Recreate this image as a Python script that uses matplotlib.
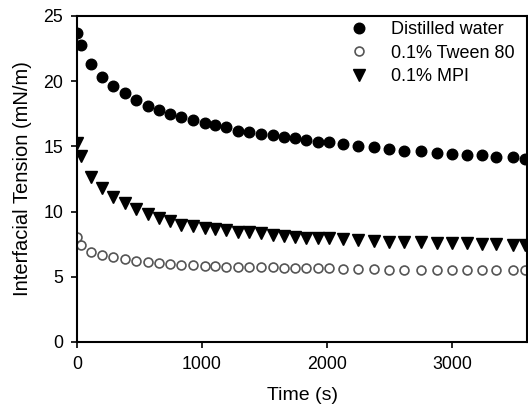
import matplotlib
matplotlib.use("Agg")
import matplotlib.pyplot as plt

plt.rcParams['font.family'] = ['Liberation Sans', 'DejaVu Sans']

time_s = [0, 30, 115, 200, 290, 385, 475, 565, 655, 745, 835, 930, 1020, 1105,
          1195, 1290, 1375, 1470, 1565, 1655, 1740, 1830, 1930, 2015, 2130,
          2250, 2380, 2495, 2615, 2755, 2880, 3000, 3120, 3240, 3355, 3485, 3585]

water = [23.7, 22.8, 21.3, 20.35, 19.6, 19.07, 18.56, 18.12, 17.8, 17.5, 17.23,
         17.02, 16.82, 16.62, 16.46, 16.2, 16.08, 15.97, 15.9, 15.74, 15.64,
         15.5, 15.34, 15.31, 15.16, 15.05, 14.98, 14.78, 14.65, 14.65, 14.47,
         14.4, 14.3, 14.3, 14.16, 14.16, 14.05]

tween = [8.08, 7.44, 6.93, 6.67, 6.5, 6.34, 6.19, 6.13, 6.03, 5.98, 5.93, 5.93,
         5.85, 5.85, 5.77, 5.77, 5.77, 5.72, 5.72, 5.67, 5.66, 5.66, 5.64, 5.64,
         5.6, 5.56, 5.58, 5.53, 5.52, 5.52, 5.52, 5.5, 5.5, 5.5, 5.5, 5.5, 5.5]

mpi = [15.24, 14.26, 12.68, 11.79, 11.14, 10.68, 10.22, 9.82, 9.49, 9.26, 9.0,
       8.9, 8.72, 8.69, 8.59, 8.41, 8.41, 8.34, 8.2, 8.13, 8.08, 7.98, 7.98,
       7.98, 7.9, 7.82, 7.77, 7.69, 7.65, 7.65, 7.57, 7.57, 7.57, 7.48, 7.5,
       7.42, 7.44]

fig = plt.figure(figsize=(5.28, 4.08), dpi=100)
ax = fig.add_axes([0.146, 0.162, 0.852, 0.799])

ax.plot(time_s, water, 'o', color='black', markersize=7.6, label='Distilled water')
ax.plot(time_s, tween, 'o', markerfacecolor='white', markeredgecolor='#555555',
        markeredgewidth=1.2, markersize=6.4, label='0.1% Tween 80')
ax.plot(time_s, mpi, 'v', color='black', markersize=8, label='0.1% MPI')

ax.set_xlim(0, 3600)
ax.set_ylim(0, 25)
ax.set_xticks([0, 1000, 2000, 3000])
ax.set_yticks([0, 5, 10, 15, 20, 25])
ax.tick_params(direction='out', length=4, width=1.2, labelsize=12.8, pad=6)
for s in ax.spines.values():
    s.set_linewidth(1.5)

ax.set_xlabel('Time (s)', fontsize=14, labelpad=10)
ax.set_ylabel('Interfacial Tension (mN/m)', fontsize=14.5, labelpad=8)

ax.legend(loc='upper left', frameon=False, fontsize=13, handletextpad=0.75,
          borderpad=0.4, labelspacing=0.35, handlelength=2.0,
          bbox_to_anchor=(325 / 528, 1 - 5 / 408),
          bbox_transform=fig.transFigure)

fig.savefig('out.png', dpi=100)
